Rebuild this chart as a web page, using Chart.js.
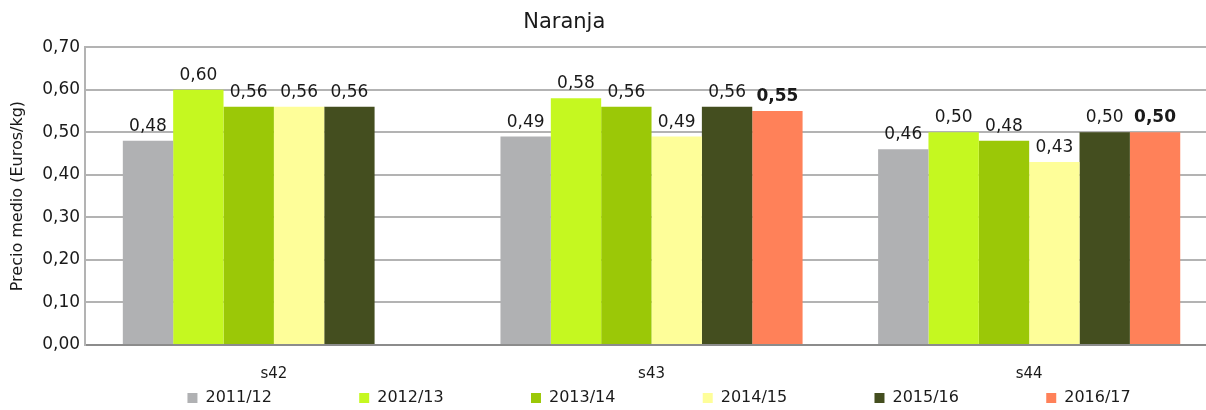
<!DOCTYPE html>
<html>
<head>
<meta charset="utf-8">
<script src="https://cdn.jsdelivr.net/npm/chart.js@4/dist/chart.umd.min.js"></script>
<style>
    html, body { margin: 0; padding: 0; background: #fff; overflow: hidden; }
    /* slightly wider than the window: the original is cropped on the right */
    #wrap { width: 1218px; height: 410px; position: relative; }
</style>
</head>
<body>
<div id="wrap"><canvas id="naranjaChart"></canvas></div>
<script>
// weeks and seasons
const weeks = ['s42', 's43', 's44'];
const seasons = ['2011/12', '2012/13', '2013/14', '2014/15', '2015/16', '2016/17'];

// average price per season (Euros/kg)
const price_2011_12 = [0.48, 0.49, 0.46];
const price_2012_13 = [0.60, 0.58, 0.50];
const price_2013_14 = [0.56, 0.56, 0.48];
const price_2014_15 = [0.56, 0.49, 0.43];
const price_2015_16 = [0.56, 0.56, 0.50];
const price_2016_17 = [null, 0.55, 0.50];

const season_colors = ['#b0b1b3', '#c5f820', '#9bc807', '#fefe99', '#444e1f', '#ff8159'];
const font_family = '"DejaVu Sans", sans-serif';

const series = [price_2011_12, price_2012_13, price_2013_14, price_2014_15, price_2015_16, price_2016_17];

// draws the value above each bar, current season in bold
const bar_labels = {
    id: 'bar_labels',
    afterDatasetsDraw(chart) {
        const ctx = chart.ctx;
        ctx.save();
        ctx.textAlign = 'center';
        ctx.textBaseline = 'alphabetic';
        ctx.fillStyle = '#1a1a1a';
        chart.data.datasets.forEach((ds, i) => {
            const meta = chart.getDatasetMeta(i);
            const bold = i === chart.data.datasets.length - 1;
            ctx.font = (bold ? 'bold 17px ' : '17px ') + font_family;
            meta.data.forEach((bar, j) => {
                const v = ds.data[j];
                if (v === null || v === undefined) return;
                ctx.fillText(v.toFixed(2).replace('.', ','), bar.x, bar.y - 10);
            });
        });
        ctx.restore();
    }
};

new Chart(document.getElementById('naranjaChart').getContext('2d'), {
    type: 'bar',
    data: {
        labels: weeks,
        datasets: seasons.map((s, i) => ({
            label: s,
            data: series[i],
            backgroundColor: season_colors[i],
            borderWidth: 0,
            categoryPercentage: 0.8,
            barPercentage: 1.0
        }))
    },
    options: {
        responsive: true,
        maintainAspectRatio: false,
        animation: false,
        layout: { padding: { top: 6, right: 0, left: 4, bottom: -6 } },
        plugins: {
            title: {
                display: true,
                // trailing spaces nudge the title left of the centre
                text: 'Naranja' + ' '.repeat(14),
                color: '#1a1a1a',
                font: { family: font_family, size: 21, weight: 'normal' },
                padding: { top: 4, bottom: 12 }
            },
            legend: {
                position: 'bottom',
                align: 'end',
                labels: {
                    color: '#1a1a1a',
                    boxWidth: 10,
                    boxHeight: 10,
                    padding: 11,
                    font: { family: font_family, size: 16 },
                    // pad each entry so the items sit on an even spacing
                    generateLabels(chart) {
                        const items = Chart.defaults.plugins.legend.labels.generateLabels(chart);
                        items.forEach(it => { it.text = it.text + ' '.repeat(15); });
                        return items;
                    }
                }
            },
            tooltip: { enabled: false }
        },
        scales: {
            x: {
                grid: { display: false },
                border: { color: '#8c8c8c', width: 2 },
                ticks: { color: '#1a1a1a', font: { family: font_family, size: 15 }, padding: 12 },
                afterFit(scale) { scale.height = 34; }
            },
            y: {
                min: 0,
                max: 0.7,
                ticks: {
                    stepSize: 0.1,
                    color: '#1a1a1a',
                    font: { family: font_family, size: 17 },
                    padding: 5,
                    callback: v => v.toFixed(2).replace('.', ',')
                },
                grid: { color: '#b3b3b3', lineWidth: 2, drawTicks: false },
                border: { color: '#b3b3b3', width: 2 },
                title: {
                    display: true,
                    text: 'Precio medio (Euros/kg)',
                    color: '#1a1a1a',
                    font: { family: font_family, size: 16 },
                    padding: { top: 4, bottom: 10 }
                }
            }
        }
    },
    plugins: [bar_labels]
});
</script>
</body>
</html>
